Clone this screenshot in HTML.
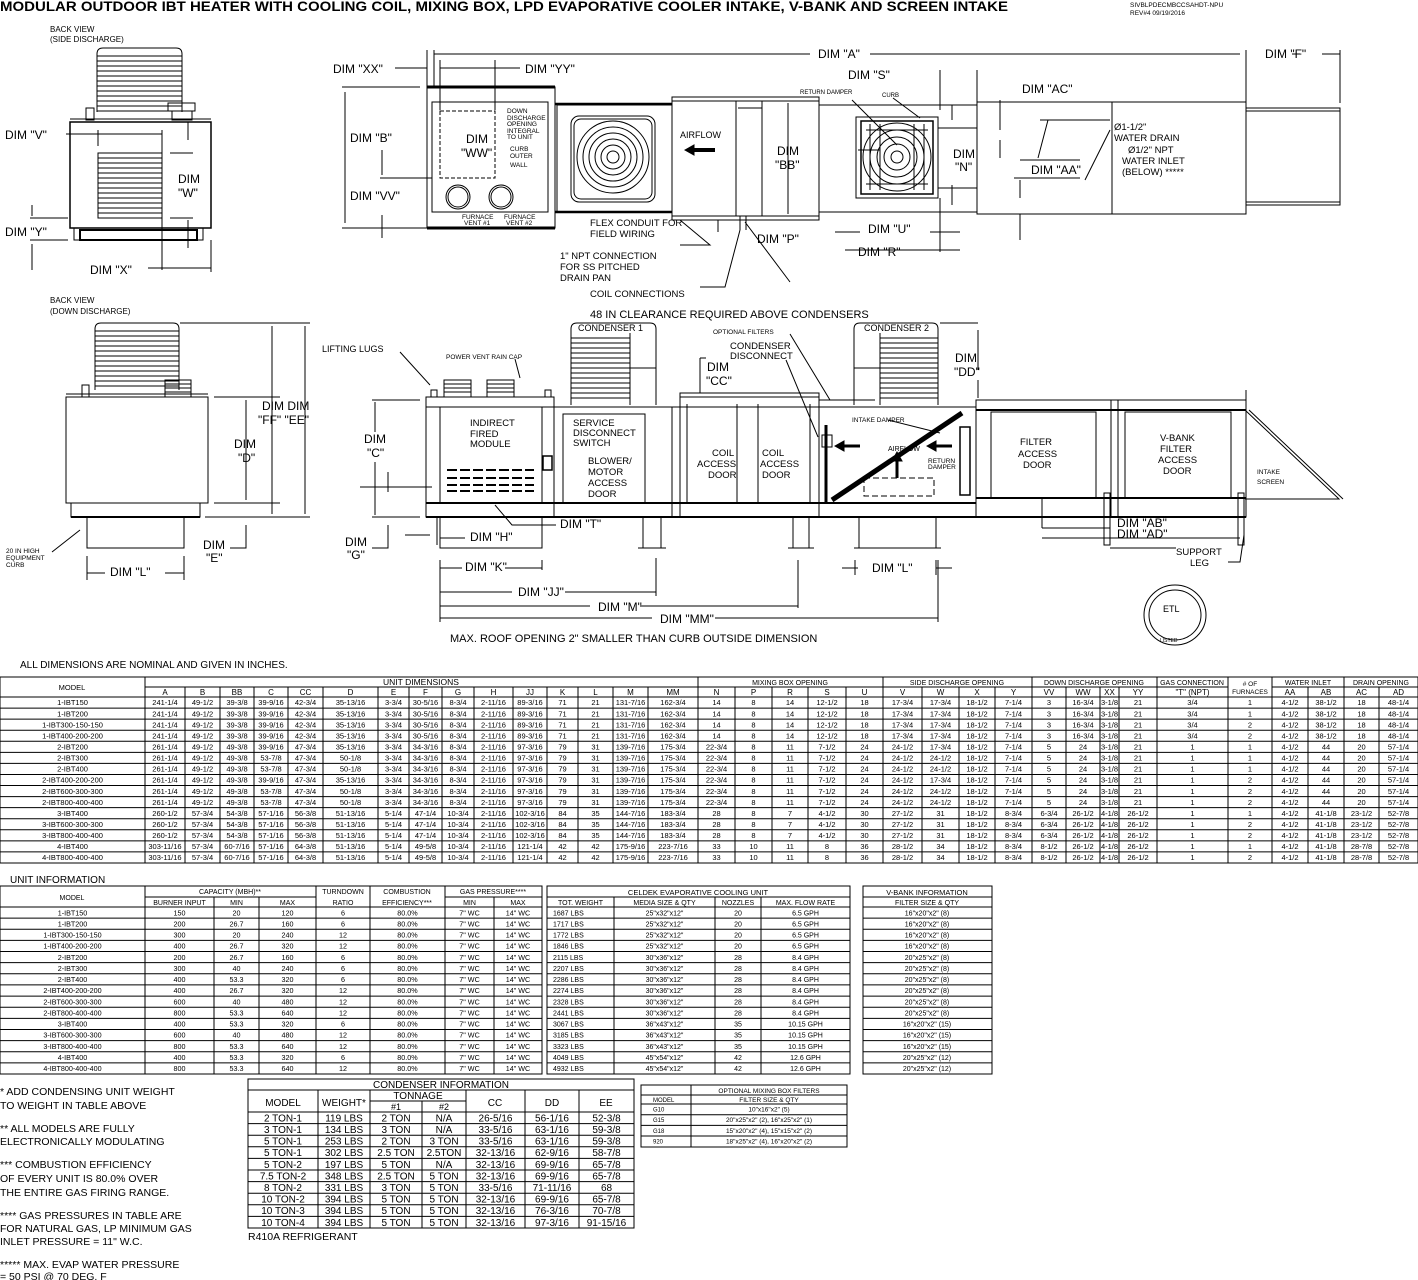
<!DOCTYPE html>
<html><head><meta charset="utf-8">
<style>
html,body{margin:0;padding:0;background:#fff;}
svg{display:block;}
text{font-family:"Liberation Sans",sans-serif;fill:#000;}
</style></head>
<body>
<svg id="S" width="1418" height="1280" viewBox="0 0 1418 1280" xmlns="http://www.w3.org/2000/svg" stroke="#000" fill="none" stroke-width="1">
<g stroke="none" fill="#000">
<text x="0" y="11" font-size="13.5" font-weight="bold" textLength="1008" lengthAdjust="spacingAndGlyphs">MODULAR OUTDOOR IBT HEATER WITH COOLING COIL, MIXING BOX, LPD EVAPORATIVE COOLER INTAKE, V-BANK AND SCREEN INTAKE</text>
<text x="1130" y="7" font-size="6.5">SIVBLPDECMBCCSAHDT-NPU</text>
<text x="1130" y="15" font-size="6.5">REV#4  09/19/2016</text>
<!-- top-left texts -->
<text x="50" y="32" font-size="8">BACK VIEW</text>
<text x="50" y="42" font-size="8">(SIDE DISCHARGE)</text>
<text x="5" y="139" font-size="12">DIM "V"</text>
<text x="178" y="183" font-size="12">DIM</text>
<text x="178" y="197" font-size="12">"W"</text>
<text x="5" y="236" font-size="12">DIM "Y"</text>
<text x="90" y="274" font-size="12">DIM "X"</text>
<!-- top middle -->
<text x="333" y="73" font-size="12">DIM "XX"</text>
<text x="525" y="73" font-size="12">DIM "YY"</text>
<text x="818" y="58" font-size="12">DIM "A"</text>
<text x="1265" y="58" font-size="12">DIM "F"</text>
<text x="350" y="142" font-size="12">DIM "B"</text>
<text x="350" y="200" font-size="12">DIM "VV"</text>
<text x="466" y="143" font-size="12">DIM</text>
<text x="461" y="157" font-size="12">"WW"</text>
<g font-size="6.5"><text x="507" y="113">DOWN</text><text x="507" y="120">DISCHARGE</text><text x="507" y="126">OPENING</text><text x="507" y="133">INTEGRAL</text><text x="507" y="139">TO UNIT</text><text x="510" y="151">CURB</text><text x="510" y="158">OUTER</text><text x="510" y="167">WALL</text>
<text x="462" y="219">FURNACE</text><text x="464" y="225">VENT #1</text><text x="504" y="219">FURNACE</text><text x="506" y="225">VENT #2</text>
<text x="800" y="94" font-size="6">RETURN DAMPER</text><text x="882" y="97" font-size="6">CURB</text></g>
<text x="680" y="138" font-size="9">AIRFLOW</text>
<text x="777" y="155" font-size="12">DIM</text><text x="775" y="169" font-size="12">"BB"</text>
<text x="848" y="79" font-size="12">DIM "S"</text>
<text x="953" y="158" font-size="12">DIM</text><text x="955" y="171" font-size="12">"N"</text>
<text x="1022" y="93" font-size="12">DIM "AC"</text>
<text x="1031" y="174" font-size="12">DIM "AA"</text>
<g font-size="9.5"><text x="1114" y="130">Ø1-1/2"</text><text x="1114" y="141">WATER DRAIN</text><text x="1128" y="153">Ø1/2" NPT</text><text x="1122" y="164">WATER INLET</text><text x="1122" y="175">(BELOW) *****</text>
<text x="590" y="226">FLEX CONDUIT FOR</text><text x="590" y="237">FIELD WIRING</text>
<text x="560" y="259">1" NPT CONNECTION</text><text x="560" y="270">FOR SS PITCHED</text><text x="560" y="281">DRAIN PAN</text>
<text x="590" y="297">COIL CONNECTIONS</text></g>
<text x="757" y="243" font-size="12">DIM "P"</text>
<text x="868" y="233" font-size="12">DIM "U"</text>
<text x="858" y="256" font-size="12">DIM "R"</text>
<!-- bottom drawing texts -->
<text x="50" y="303" font-size="8">BACK VIEW</text>
<text x="50" y="314" font-size="8">(DOWN DISCHARGE)</text>
<text x="262" y="410" font-size="12">DIM DIM</text>
<text x="258" y="424" font-size="12">"FF" "EE"</text>
<text x="234" y="448" font-size="12">DIM</text><text x="238" y="462" font-size="12">"D"</text>
<text x="203" y="549" font-size="12">DIM</text><text x="206" y="562" font-size="12">"E"</text>
<g font-size="6.5"><text x="6" y="553">20 IN HIGH</text><text x="6" y="560">EQUIPMENT</text><text x="6" y="567">CURB</text>
<text x="446" y="359">POWER VENT RAIN CAP</text><text x="713" y="334">OPTIONAL FILTERS</text><text x="852" y="422">INTAKE DAMPER</text>
<text x="928" y="463">RETURN</text><text x="928" y="469">DAMPER</text><text x="1257" y="474">INTAKE</text><text x="1257" y="484">SCREEN</text></g>
<text x="110" y="576" font-size="12">DIM "L"</text>
<text x="322" y="352" font-size="9">LIFTING LUGS</text>
<text x="590" y="318" font-size="11">48 IN CLEARANCE REQUIRED ABOVE CONDENSERS</text>
<text x="578" y="331" font-size="9">CONDENSER 1</text>
<text x="864" y="331" font-size="9">CONDENSER 2</text>
<g font-size="9.5"><text x="730" y="349">CONDENSER</text><text x="730" y="359">DISCONNECT</text>
<text x="470" y="426">INDIRECT</text><text x="470" y="437">FIRED</text><text x="470" y="447">MODULE</text>
<text x="573" y="426">SERVICE</text><text x="573" y="436">DISCONNECT</text><text x="573" y="446">SWITCH</text>
<text x="588" y="464">BLOWER/</text><text x="588" y="475">MOTOR</text><text x="588" y="486">ACCESS</text><text x="588" y="497">DOOR</text>
<text x="712" y="456">COIL</text><text x="697" y="467">ACCESS</text><text x="708" y="478">DOOR</text>
<text x="762" y="456">COIL</text><text x="760" y="467">ACCESS</text><text x="762" y="478">DOOR</text>
<text x="1020" y="445">FILTER</text><text x="1018" y="457">ACCESS</text><text x="1023" y="468">DOOR</text>
<text x="1160" y="441">V-BANK</text><text x="1160" y="452">FILTER</text><text x="1158" y="463">ACCESS</text><text x="1163" y="474">DOOR</text>
<text x="1176" y="555">SUPPORT</text><text x="1190" y="566">LEG</text></g>
<text x="888" y="451" font-size="7">AIRFLOW</text>
<text x="707" y="371" font-size="12">DIM</text><text x="706" y="385" font-size="12">"CC"</text>
<text x="955" y="362" font-size="12">DIM</text><text x="954" y="376" font-size="12">"DD"</text>
<text x="364" y="443" font-size="12">DIM</text><text x="367" y="457" font-size="12">"C"</text>
<text x="345" y="546" font-size="12">DIM</text><text x="347" y="559" font-size="12">"G"</text>
<text x="470" y="541" font-size="12">DIM "H"</text>
<text x="560" y="528" font-size="12">DIM "T"</text>
<text x="465" y="571" font-size="12">DIM "K"</text>
<text x="518" y="596" font-size="12">DIM "JJ"</text>
<text x="598" y="611" font-size="12">DIM "M"</text>
<text x="660" y="623" font-size="12">DIM "MM"</text>
<text x="872" y="572" font-size="12">DIM "L"</text>
<text x="1117" y="527" font-size="12">DIM "AB"</text>
<text x="1117" y="538" font-size="12">DIM "AD"</text>
<text x="450" y="642" font-size="11">MAX. ROOF OPENING 2" SMALLER THAN CURB OUTSIDE DIMENSION</text>
<text x="20" y="668" font-size="10">ALL DIMENSIONS ARE NOMINAL AND GIVEN IN INCHES.</text>
<text x="10" y="883" font-size="10">UNIT INFORMATION</text>
<text x="1163" y="612" font-size="9">ETL</text>
<text x="1160" y="642" font-size="5">LISTED</text>
<g font-size="10.5"><text x="0" y="1095">* ADD CONDENSING UNIT WEIGHT</text><text x="0" y="1109">TO WEIGHT IN TABLE ABOVE</text>
<text x="0" y="1132">** ALL MODELS ARE FULLY</text><text x="0" y="1145"> ELECTRONICALLY MODULATING</text>
<text x="0" y="1168">*** COMBUSTION EFFICIENCY</text><text x="0" y="1182">OF EVERY UNIT IS 80.0% OVER</text><text x="0" y="1196">THE ENTIRE GAS FIRING RANGE.</text>
<text x="0" y="1219">**** GAS PRESSURES IN TABLE ARE</text><text x="0" y="1232">FOR NATURAL GAS,  LP MINIMUM GAS</text><text x="0" y="1245">INLET PRESSURE = 11" W.C.</text>
<text x="0" y="1268">***** MAX. EVAP WATER PRESSURE</text><text x="0" y="1280">= 50 PSI @ 70 DEG. F</text>
<text x="248" y="1240">R410A REFRIGERANT</text></g>
</g>

<!-- TOP LEFT side view -->
<path d="M97 112 V54 Q97 48 103 48 H176 Q182 48 182 54 V112"/>
<path d="M97 56H182M97 61H182M97 66H182M97 71H182M97 76H182M97 81H182M97 86H182M97 91H182M97 96H182M97 101H182M97 106H182M97 111H182"/>
<rect x="86" y="108" width="8" height="12"/>
<rect x="168" y="103" width="27" height="8"/><rect x="172" y="111" width="20" height="9"/>
<rect x="70" y="122" width="141" height="106" stroke-width="1.5"/>
<line x1="70" y1="119" x2="211" y2="119"/>
<rect x="98" y="153" width="64" height="65"/>
<path d="M98 158H162M98 163H162M98 168H162M98 173H162M98 178H162M98 183H162M98 188H162M98 193H162M98 198H162M98 203H162M98 208H162M98 213H162"/>
<rect x="74" y="228" width="129" height="12"/><rect x="80" y="230" width="117" height="10" stroke-width="2"/>
<path d="M66 134H162M98 130V146M162 130V270M170 153H193M170 218H193M188 122V140M188 220V248M30 218H68M30 240H68M32 205V216M32 244V270M148 268H211M211 240V272"/>

<!-- TOP middle -->
<rect x="427" y="87" width="128" height="141"/>
<path d="M427 87H555M427 228H555" stroke-width="3"/>
<rect x="432" y="102" width="116" height="110"/>
<rect x="440" y="111" width="55" height="67" stroke-dasharray="4,2"/>
<circle cx="458" cy="197" r="12"/><circle cx="458" cy="197" r="10"/>
<circle cx="501" cy="197" r="12"/><circle cx="501" cy="197" r="10"/>
<path d="M395 68H427M440 68H520M434 54H810M870 54H1240M427 50V87M434 50V87M440 60V110M495 60V110M342 87H420M342 228H427M345 92V223M380 178H432M382 150V175M382 215V238M1292 54H1300M1322 54H1340M1340 50V103M1246 50V103"/>
<!-- evap section -->
<rect x="557" y="105" width="115" height="107"/>
<path d="M555 104H672M555 212H672" stroke-width="2.5"/>
<rect x="571" y="116" width="84" height="86" rx="8"/><rect x="574" y="119" width="78" height="80" rx="7"/>
<circle cx="613" cy="157" r="36"/><circle cx="613" cy="157" r="30"/><circle cx="613" cy="157" r="24"/><circle cx="613" cy="157" r="18"/><circle cx="613" cy="157" r="12"/><circle cx="613" cy="157" r="6"/>
<!-- coil section -->
<rect x="672" y="97" width="147" height="123"/>
<path d="M672 101H819M672 216H819M736 101V216M762 101V216M738 108H762M788 103V214M718 220V232M740 216V230M746 216V230"/>
<path d="M715 150H692" stroke-width="4"/><path d="M685 150L694 145V155Z" fill="#000"/>
<!-- duct & mixing -->
<path d="M819 105H977M819 212H977M938 128H977M938 188H977M858 150H880M940 70V110M977 70V110M952 105V120M952 185V205M845 250H960M940 198V252M835 232H860M930 232H960"/>
<rect x="856" y="117" width="82" height="81"/><rect x="861" y="121" width="72" height="73" stroke-width="1.5"/>
<circle cx="897" cy="157" r="34"/><circle cx="897" cy="157" r="27"/><circle cx="897" cy="157" r="20"/><circle cx="897" cy="157" r="13"/><circle cx="897" cy="157" r="6"/>
<path d="M870 124V190M880 124V190M914 124V190M924 124V190M866 130H928M866 184H928"/>
<path d="M852 100L897 145M893 98L920 118"/>
<!-- right section -->
<rect x="977" y="102" width="269" height="112"/>
<path d="M1112 102V214M1000 100V130M1000 140V158M1020 160H1080M1014 178H1080M1020 180V198M1040 120H1110M1038 158L1048 120M1085 180L1110 130M1020 214V240"/>
<rect x="1246" y="108" width="94" height="97"/><path d="M1246 111H1340M1246 202H1340"/>
<path d="M680 220L710 245H680M790 282L745 222M700 287H725L740 230"/>

<!-- BOTTOM LEFT back view down -->
<path d="M95 390V329Q95 323 101 323H173Q179 323 179 329V390"/>
<path d="M95 331H179M95 336H179M95 341H179M95 346H179M95 351H179M95 356H179M95 361H179M95 366H179M95 371H179M95 376H179M95 381H179M95 386H179"/>
<rect x="165" y="380" width="26" height="17"/><path d="M165 384H191M165 388H191M165 392H191"/>
<rect x="82" y="385" width="7" height="12"/>
<rect x="66" y="397" width="142" height="106"/><line x1="66" y1="394" x2="208" y2="394"/>
<rect x="71" y="503" width="129" height="14"/><path d="M71 517H200" stroke-width="2"/>
<path d="M87 517V548H184V517M87 556V580M184 556V580M87 573H105M165 573H184"/>
<path d="M180 323H310M214 397H280M214 503H280M205 517H310M246 400V500M272 326V514M305 326V514M246 525V548H230M52 552L80 530"/>

<!-- BOTTOM main unit -->
<rect x="426" y="397" width="128" height="120"/>
<path d="M426 407H976" />
<rect x="440" y="407" width="102" height="96"/>
<path d="M447 470H534M447 478H534M447 485H534M447 491H534" stroke-width="2" stroke-dasharray="10,3"/>
<path d="M426 503H976M426 517H976" stroke-width="2"/>
<rect x="431" y="390" width="6" height="7"/><rect x="545" y="390" width="6" height="7"/>
<rect x="444" y="380" width="27" height="17"/><rect x="487" y="380" width="27" height="17"/>
<path d="M444 384H471M444 388H471M444 392H471M487 384H514M487 388H514M487 392H514"/>
<path d="M571 405V329Q571 323 577 323H650Q656 323 656 329V405"/>
<path d="M571 338H630M571 343H630M571 348H630M571 353H630M571 358H630M571 363H630M571 368H630M571 373H630M571 378H630M571 383H630M571 388H630M571 393H630M571 398H630M630 333V405M630 368H656"/>
<rect x="554" y="407" width="118" height="110"/>
<rect x="563" y="414" width="82" height="89"/>
<rect x="543" y="456" width="9" height="14" stroke-width="1.5"/>
<rect x="680" y="393" width="139" height="124"/>
<path d="M680 397H819M737 404V503M758 404V503M687 404V503M810 404V503"/>
<rect x="819" y="407" width="157" height="110"/>
<path d="M832 500L962 413" stroke-width="5"/>
<path d="M826 425V503" stroke-width="3"/>
<rect x="822" y="435" width="10" height="12"/>
<path d="M860 446H842M952 446H934M897 478H897" stroke-width="3"/>
<path d="M835 446L844 441V451ZM927 446L936 441V451ZM897 452L892 461H902Z" fill="#000"/>
<path d="M897 478V460" stroke-width="3"/>
<rect x="864" y="478" width="70" height="18" stroke-dasharray="6,3"/>
<rect x="960" y="427" width="10" height="68" stroke-width="1.5"/>
<path d="M854 405V329Q854 323 860 323H932Q938 323 938 329V405"/>
<path d="M880 338H938M880 343H938M880 348H938M880 353H938M880 358H938M880 363H938M880 368H938M880 373H938M880 378H938M880 383H938M880 388H938M880 393H938M880 398H938M880 333V405M854 368H880M819 400H875"/>
<rect x="976" y="400" width="270" height="117"/>
<path d="M976 410H1246" stroke-width="2"/>
<path d="M976 498H1246M976 517H1246" stroke-width="2"/>
<rect x="991" y="412" width="105" height="86"/><rect x="1125" y="412" width="106" height="86"/>
<path d="M1111 400V517M1118 400V517M1246 390V410"/>
<path d="M1245 410L1339 499H1245M1249 410L1343 499"/>
<!-- legs -->
<path d="M643 517V548M661 517V548M638 548H666M793 517V548M809 517V548M788 548H814M859 517V548M936 517V548M854 548H941M440 517V548H542V517"/>
<rect x="1104" y="493" width="6" height="52"/><rect x="1238" y="493" width="6" height="52"/>
<!-- dims bottom -->
<path d="M440 560V622M542 560V570M656 558V596M798 560V608M938 560V622M440 568H462M505 568H542M440 592H512M565 592H656M440 606H590M640 606H798M440 618H652M715 618H938M855 560V575M936 560V575M842 568H858M936 568H952"/>
<path d="M372 400H420M372 517H420M375 402V432M375 462V515M388 472V492M360 487H432M388 525V548H372M405 535H430M437 518V545M465 538H440M556 525H512L495 505M400 352L430 385M700 358V393M700 358H706M978 330V370M978 380V398M940 323H978M1042 497V528M1042 528H1110M1065 538H1240M1042 538H1065M1110 548L1176 548M1244 535L1240 562H1228M790 334L830 400M786 360L818 437M888 420L940 433M515 359L520 378"/>
<!-- ETL -->
<ellipse cx="1175" cy="615" rx="31" ry="30"/><ellipse cx="1175" cy="615" rx="26" ry="25"/>

<g id="G"></g>
</svg>
<script>
(function(){
var s='';
function L(a,b,c,d,w){s+='<line x1="'+a+'" y1="'+b+'" x2="'+c+'" y2="'+d+'"'+(w?' stroke-width="'+w+'"':'')+'/>';}
function T(x,y,t,f,a){s+='<text x="'+x+'" y="'+y+'" font-size="'+f+'" text-anchor="'+(a||'middle')+'" stroke="none" fill="#000">'+t+'</text>';}
function R(x,y,w,h){s+='<rect x="'+x+'" y="'+y+'" width="'+w+'" height="'+h+'"/>';}
function cells(xs,y,vals,f){for(var i=0;i<vals.length&&i<xs.length-1;i++)T((xs[i]+xs[i+1])/2,y,vals[i],f);}
// MAIN TABLE
var MX=[0,145,185,220,254,288,323,378,409,442,474,513,547,578,613,648,698,735,772,808,846,883,922,959,995,1032,1066,1100,1119,1157,1228,1272,1308,1344,1379,1418];
var top=677,bot=863,rh=(bot-697)/15;
R(0,top,1418,bot-top);
L(145,687,1228,687);L(1272,687,1418,687);L(0,697,1418,697);
[145,698,883,1032,1157,1228,1272,1344].forEach(function(x){L(x,top,x,687);});
MX.forEach(function(x,i){if(i>0&&i<MX.length-1)L(x,687,x,bot);});
T(72,690,'MODEL',7.5);
T(421,685,'UNIT DIMENSIONS',8.5);T(790,685,'MIXING BOX OPENING',7);T(957,685,'SIDE DISCHARGE OPENING',7);T(1094,685,'DOWN DISCHARGE OPENING',7);T(1192,685,'GAS CONNECTION',7);
T(1250,686,'# OF',6.5);T(1250,694,'FURNACES',6.5);T(1308,685,'WATER INLET',7);T(1381,685,'DRAIN OPENING',7);
var H=['A','B','BB','C','CC','D','E','F','G','H','JJ','K','L','M','MM','N','P','R','S','U','V','W','X','Y','VV','WW','XX','YY','"T" (NPT)','','AA','AB','AC','AD'];
cells(MX.slice(1),695,H,8);
var g1="241-1/4 49-1/2 39-3/8 39-9/16 42-3/4 35-13/16 3-3/4 30-5/16 8-3/4 2-11/16 89-3/16 71 21 131-7/16 162-3/4",
g2a="261-1/4 49-1/2 49-3/8 39-9/16 47-3/4 35-13/16 3-3/4 34-3/16 8-3/4 2-11/16 97-3/16 79 31 139-7/16 175-3/4",
g2b="261-1/4 49-1/2 49-3/8 53-7/8 47-3/4 50-1/8 3-3/4 34-3/16 8-3/4 2-11/16 97-3/16 79 31 139-7/16 175-3/4",
g3="260-1/2 57-3/4 54-3/8 57-1/16 56-3/8 51-13/16 5-1/4 47-1/4 10-3/4 2-11/16 102-3/16 84 35 144-7/16 183-3/4",
g4="303-11/16 57-3/4 60-7/16 57-1/16 64-3/8 51-13/16 5-1/4 49-5/8 10-3/4 2-11/16 121-1/4 42 42 175-9/16 223-7/16",
m1="14 8 14 12-1/2 18",m2="22-3/4 8 11 7-1/2 24",m3="28 8 7 4-1/2 30",m4="33 10 11 8 36",
s1="17-3/4 17-3/4 18-1/2 7-1/4",s2a="24-1/2 17-3/4 18-1/2 7-1/4",s2b="24-1/2 24-1/2 18-1/2 7-1/4",s3="27-1/2 31 18-1/2 8-3/4",s4="28-1/2 34 18-1/2 8-3/4",
d1="3 16-3/4 3-1/8 21",d2="5 24 3-1/8 21",d3="6-3/4 26-1/2 4-1/8 26-1/2",d4="8-1/2 26-1/2 4-1/8 26-1/2",
w1="4-1/2 38-1/2 18 48-1/4",w2="4-1/2 44 20 57-1/4",w3="4-1/2 41-1/8 23-1/2 52-7/8",w4="4-1/2 41-1/8 28-7/8 52-7/8";
var MR=[["1-IBT150",g1,m1,s1,d1,"3/4 1",w1],["1-IBT200",g1,m1,s1,d1,"3/4 1",w1],["1-IBT300-150-150",g1,m1,s1,d1,"3/4 2",w1],["1-IBT400-200-200",g1,m1,s1,d1,"3/4 2",w1],
["2-IBT200",g2a,m2,s2a,d2,"1 1",w2],["2-IBT300",g2b,m2,s2b,d2,"1 1",w2],["2-IBT400",g2b,m2,s2b,d2,"1 1",w2],["2-IBT400-200-200",g2a,m2,s2a,d2,"1 2",w2],["2-IBT600-300-300",g2b,m2,s2b,d2,"1 2",w2],["2-IBT800-400-400",g2b,m2,s2b,d2,"1 2",w2],
["3-IBT400",g3,m3,s3,d3,"1 1",w3],["3-IBT600-300-300",g3,m3,s3,d3,"1 2",w3],["3-IBT800-400-400",g3,m3,s3,d3,"1 2",w3],["4-IBT400",g4,m4,s4,d4,"1 1",w4],["4-IBT800-400-400",g4,m4,s4,d4,"1 2",w4]];
MR.forEach(function(r,i){var y=697+rh*i;if(i>0)L(0,y,1418,y);var v=[r[0]].concat(r.slice(1).join(' ').split(' '));cells(MX,y+rh/2+2.7,v,7.5);});
// UNIT INFO
var UX=[0,145,214,259,316,370,445,494,542],ut=886,ub=1074,urh=(ub-907)/15;
R(0,ut,542,ub-ut);L(145,897,316,897);L(445,897,542,897);L(0,907,542,907);
[145,316,370,445].forEach(function(x){L(x,ut,x,ub);});[214,259,494].forEach(function(x){L(x,897,x,ub);});
T(72,900,'MODEL',7);T(230,894,'CAPACITY (MBH)**',7);T(343,894,'TURNDOWN',7);T(343,905,'RATIO',7);T(407,894,'COMBUSTION',7);T(407,905,'EFFICIENCY***',7);T(493,894,'GAS PRESSURE****',7);
cells(UX.slice(1),905,['BURNER INPUT','MIN','MAX'],7);cells([445,494,542],905,['MIN','MAX'],7);
var UD=["150 20 120 6","200 26.7 160 6","300 20 240 12","400 26.7 320 12","200 26.7 160 6","300 40 240 6","400 53.3 320 6","400 26.7 320 12","600 40 480 12","800 53.3 640 12","400 53.3 320 6","600 40 480 12","800 53.3 640 12","400 53.3 320 6","800 53.3 640 12"];
UD.forEach(function(d,i){var y=907+urh*i;if(i>0)L(0,y,542,y);cells(UX,y+urh/2+2.7,[MR[i][0]].concat(d.split(' ')).concat(['80.0%','7" WC','14" WC']),7.2);});
// CELDEK
var CX=[547,614,715,761,850];
R(547,ut,303,ub-ut);L(547,897,850,897);L(547,907,850,907);CX.slice(1,4).forEach(function(x){L(x,897,x,ub);});
T(698,895,'CELDEK EVAPORATIVE COOLING UNIT',7.5);cells(CX,905,['TOT. WEIGHT','MEDIA SIZE &amp; QTY','NOZZLES','MAX. FLOW RATE'],7);
var WT=[1687,1717,1772,1846,2115,2207,2286,2274,2328,2441,3067,3185,3323,4049,4932];
function grp(i,a,b,c,d){return i<4?a:i<10?b:i<13?c:d;}
WT.forEach(function(w,i){var y=907+urh*i;if(i>0){L(547,y,850,y);L(863,y,992,y);}var yy=y+urh/2+2.7;
T(553,yy,w+' LBS',7,'start');cells(CX.slice(1),yy,[grp(i,'25"x32"x12"','30"x36"x12"','36"x43"x12"','45"x54"x12"'),grp(i,'20','28','35','42'),grp(i,'6.5 GPH','8.4 GPH','10.15 GPH','12.6 GPH')],7);
T(927,yy,grp(i,'16"x20"x2" (8)','20"x25"x2" (8)','16"x20"x2" (15)','20"x25"x2" (12)'),7);});
R(863,ut,129,ub-ut);L(863,897,992,897);L(863,907,992,907);T(927,895,'V-BANK INFORMATION',7.5);T(927,905,'FILTER SIZE &amp; QTY',7);
// CONDENSER
var KX=[248,318,370,422,466,525,579,634],kt=1079,kb=1228,krh=(kb-1112)/10;
R(248,kt,386,kb-kt);L(248,1090,634,1090);L(370,1101,466,1101);L(248,1112,634,1112);
KX.slice(1,7).forEach(function(x,i){L(x,(x==422?1101:1090),x,kb);});
T(441,1088,'CONDENSER INFORMATION',10);T(283,1106,'MODEL',10);T(344,1106,'WEIGHT*',10);T(418,1099,'TONNAGE',10);T(396,1110,'#1',9);T(444,1110,'#2',9);T(495,1106,'CC',10);T(552,1106,'DD',10);T(606,1106,'EE',10);
var KD=["2 TON-1|119 LBS|2 TON|N/A|26-5/16|56-1/16|52-3/8","3 TON-1|134 LBS|3 TON|N/A|33-5/16|63-1/16|59-3/8","5 TON-1|253 LBS|2 TON|3 TON|33-5/16|63-1/16|59-3/8","5 TON-1|302 LBS|2.5 TON|2.5TON|32-13/16|62-9/16|58-7/8","5 TON-2|197 LBS|5 TON|N/A|32-13/16|69-9/16|65-7/8","7.5 TON-2|348 LBS|2.5 TON|5 TON|32-13/16|69-9/16|65-7/8","8 TON-2|331 LBS|3 TON|5 TON|33-5/16|71-11/16|68","10 TON-2|394 LBS|5 TON|5 TON|32-13/16|69-9/16|65-7/8","10 TON-3|394 LBS|5 TON|5 TON|32-13/16|76-3/16|70-7/8","10 TON-4|394 LBS|5 TON|5 TON|32-13/16|97-3/16|91-15/16"];
KD.forEach(function(d,i){var y=1112+krh*i;if(i>0)L(248,y,634,y);cells(KX,y+krh/2+3.6,d.split('|'),10);});
// FILTERS
var FX=[641,691,847],fr=[1085,1095,1104,1114.7,1125.4,1136,1147];
R(641,1085,206,62);L(691,1085,691,1147);fr.slice(1,6).forEach(function(y){L(641,y,847,y);});
T(769,1093,'OPTIONAL MIXING BOX FILTERS',6.5);T(653,1102,'MODEL',6,'start');T(769,1102,'FILTER SIZE &amp; QTY',6.5);
[['G10','10"x16"x2" (5)'],['G15','20"x25"x2" (2), 16"x25"x2" (1)'],['G18','15"x20"x2" (4), 15"x15"x2" (2)'],['920','18"x25"x2" (4), 16"x20"x2" (2)']].forEach(function(r,i){var yy=fr[i+2]+7.5;T(653,yy,r[0],6,'start');T(769,yy,r[1],6.5);});
document.getElementById('G').innerHTML=s;
})();
</script>
</body></html>
